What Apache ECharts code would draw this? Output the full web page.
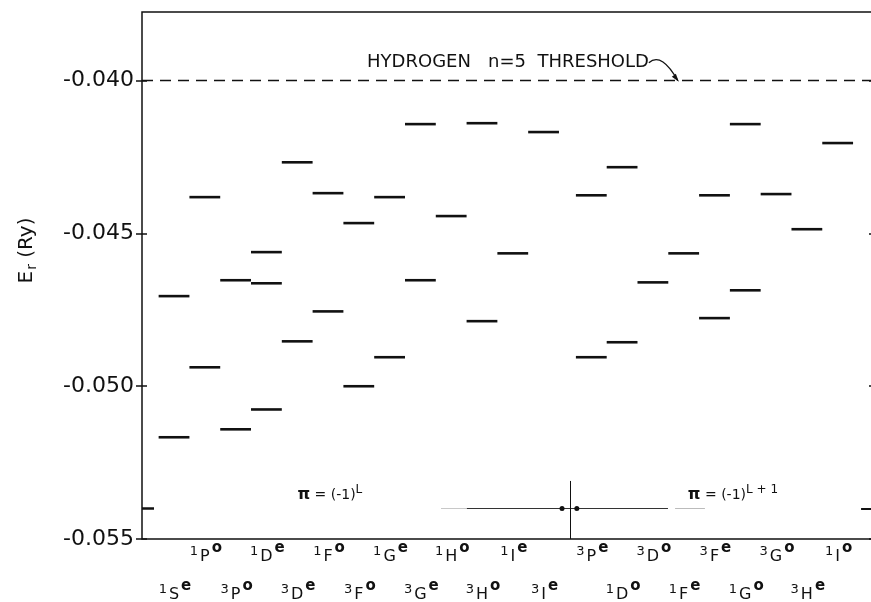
<!DOCTYPE html>
<html>
<head>
<meta charset="utf-8">
<script src="https://cdn.jsdelivr.net/npm/echarts@6/dist/echarts.min.js"></script>
<style>
html, body { margin: 0; padding: 0; background: #fff; }
#chart { width: 871px; height: 602px; }
</style>
</head>
<body>
<div id="chart"></div>
<script>
var F = 'DejaVu Sans';
var INK = '#111';

// term symbols of the 22 columns (multiplicity, L, parity)
var mult   = ['1','1','3','1','3','1','3','1','3','1','3','1','3', '3','1','3','1','3','1','3','3','1'];
var letter = ['S','P','P','D','D','F','F','G','G','H','H','I','I', 'P','D','D','F','F','G','G','H','I'];
var parity = ['e','o','o','e','e','o','o','e','e','o','o','e','e', 'e','o','o','e','e','o','o','e','o'];

// resonance positions E_r (Ry) in each column
var levels = [
    [-0.04705, -0.05167],            // 1Se
    [-0.04381, -0.04938],            // 1Po
    [-0.04653, -0.05141],            // 3Po
    [-0.04561, -0.04663, -0.05076],  // 1De
    [-0.04267, -0.04853],            // 3De
    [-0.04368, -0.04755],            // 1Fo
    [-0.04466, -0.05000],            // 3Fo
    [-0.04381, -0.04905],            // 1Ge
    [-0.04142, -0.04653],            // 3Ge
    [-0.04443],                      // 1Ho
    [-0.04139, -0.04787],            // 3Ho
    [-0.04565],                      // 1Ie
    [-0.04168],                      // 3Ie
    [-0.04375, -0.04905],            // 3Pe
    [-0.04283, -0.04856],            // 1Do
    [-0.04660],                      // 3Do
    [-0.04565],                      // 1Fe
    [-0.04375, -0.04777],            // 3Fe
    [-0.04142, -0.04686],            // 1Go
    [-0.04371],                      // 3Go
    [-0.04486],                      // 3He
    [-0.04204]                       // 1Io
];

// y axis
var yMin = -0.055, yMax = -0.03775;
var yTicks = [-0.055, -0.050, -0.045, -0.040];
var threshold = -0.040;   // hydrogen n=5
var lowLine = -0.0540;
var sepTop = -0.0531;
var sepX = 12.86;

var chart = echarts.init(document.getElementById('chart'));

// the parity groups are split by a gap
var xPos = letter.map(function (l, i) { return i < 13 ? i : i + 0.55; });
var levelData = [];
levels.forEach(function (col, i) {
    col.forEach(function (e) { levelData.push([xPos[i], e]); });
});
var termData = xPos.map(function (x, i) { return [x, yMin, i]; });

var measure = document.createElement('canvas').getContext('2d');
function textWidth(s, size) {
    measure.font = size + 'px "' + F + '"';
    return measure.measureText(s).width;
}

function renderLevel(params, api) {
    var x = api.value(0), e = api.value(1);
    var a = api.coord([x - 0.5, e]);
    var b = api.coord([x + 0.5, e]);
    return {
        type: 'line',
        shape: { x1: a[0], y1: a[1], x2: b[0], y2: b[1] },
        style: { stroke: INK, lineWidth: 2.6 }
    };
}

function txt(x, y, s, size, align, weight) {
    return {
        type: 'text', x: x, y: y,
        style: {
            text: s, fill: INK, fontFamily: F, fontSize: size, fontWeight: weight || 'normal',
            align: align, verticalAlign: 'middle'
        }
    };
}

function renderTerm(params, api) {
    var i = api.value(2);
    var p = api.coord([api.value(0), api.value(1)]);
    var top = i % 2 === 1;
    var cy = p[1] + (top ? 18 : 56);
    var hw = textWidth(letter[i], 16) / 2;
    return {
        type: 'group',
        children: [
            txt(p[0] - hw - 2, cy - 5, mult[i], 13, 'right'),
            txt(p[0], cy, letter[i], 16, 'center'),
            txt(p[0] + hw + 2, cy - 9, parity[i], 15, 'left', 'bold')
        ]
    };
}

var piRich = {
    pi: { color: INK, fontFamily: F, fontSize: 16, fontWeight: 'bold', lineHeight: 16, padding: [6, 0, 0, 0] },
    tx: { color: INK, fontFamily: F, fontSize: 14, lineHeight: 14, padding: [7, 0, 0, 0] },
    sp: { color: INK, fontFamily: F, fontSize: 12, lineHeight: 12, verticalAlign: 'top' }
};

function yAxisBase(pos) {
    return {
        type: 'value',
        position: pos,
        min: yMin,
        max: yMax,
        interval: 0.005,
        splitLine: { show: false },
        axisLine: { show: false, onZero: false }
    };
}

var yLeft = yAxisBase('left');
yLeft.axisTick = { show: true, length: 6, customValues: yTicks, lineStyle: { color: INK, width: 1.5 } };
yLeft.axisLabel = {
    color: INK, fontFamily: F, fontSize: 22, margin: 8, customValues: yTicks,
    formatter: function (v) { return v.toFixed(3); }
};
yLeft.name = '{e|E}{r|r}{t| (Ry)}';
yLeft.nameLocation = 'middle';
yLeft.nameGap = 105;
yLeft.nameTextStyle = {
    color: INK, fontFamily: F, padding: [0, 0, 0, 50],
    rich: {
        e: { color: INK, fontFamily: F, fontSize: 20, lineHeight: 20 },
        r: { color: INK, fontFamily: F, fontSize: 14, lineHeight: 14, padding: [10, 0, 0, 1] },
        t: { color: INK, fontFamily: F, fontSize: 20, lineHeight: 20 }
    }
};

var yInner = yAxisBase('left');
yInner.axisTick = { show: true, inside: true, length: 5, customValues: yTicks, lineStyle: { color: INK, width: 1.5 } };
yInner.axisLabel = { show: false };

var yRight = yAxisBase('right');
yRight.axisTick = { show: true, inside: true, length: 5, customValues: yTicks, lineStyle: { color: INK, width: 1.5 } };
yRight.axisLabel = { show: false };

var option = {
    animation: false,
    backgroundColor: '#fff',
    grid: {
        left: 142, right: -3, top: 12, bottom: 63,
        show: true, borderColor: INK, borderWidth: 1.5,
        containLabel: false, outerBoundsMode: 'none'
    },
    xAxis: {
        type: 'value',
        min: -1.04,
        max: 22.73,
        axisLine: { show: false, onZero: false },
        axisTick: { show: false },
        axisLabel: { show: false },
        splitLine: { show: false }
    },
    yAxis: [yLeft, yInner, yRight],
    series: [{
        type: 'custom',
        name: 'levels',
        renderItem: renderLevel,
        encode: { x: 0, y: 1 },
        data: levelData,
        silent: true,
        markLine: {
            silent: true,
            symbol: ['none', 'none'],
            label: { show: false },
            data: [
                {
                    yAxis: threshold,
                    lineStyle: { type: [11, 7], color: INK, width: 1.4 },
                    label: {
                        show: true, position: 'insideMiddleTop', distance: 9,
                        formatter: 'HYDROGEN   n=5  THRESHOLD',
                        color: INK, fontFamily: F, fontSize: 18
                    }
                },
                [{ coord: [8.67, lowLine], lineStyle: { type: 'solid', color: '#c8c8c8', width: 1 } }, { coord: [9.51, lowLine] }],
                [{ coord: [9.51, lowLine], lineStyle: { type: 'solid', color: '#333', width: 1 } }, { coord: [16.04, lowLine] }],
                [{ coord: [16.27, lowLine], lineStyle: { type: 'solid', color: '#bbb', width: 1 } }, { coord: [17.24, lowLine] }],
                [{ coord: [-1.04, lowLine], lineStyle: { type: 'solid', color: INK, width: 2.5 } }, { coord: [-0.65, lowLine] }],
                [{ coord: [22.31, lowLine], lineStyle: { type: 'solid', color: INK, width: 2 } }, { coord: [22.73, lowLine] }],
                [{ coord: [sepX, sepTop], lineStyle: { type: 'solid', color: INK, width: 1 } }, { coord: [sepX, yMin] }]
            ]
        },
        markPoint: {
            silent: true,
            symbol: 'circle',
            symbolSize: 0,
            data: [
                { coord: [5.06, -0.05347], label: { show: true, position: 'inside', formatter: '{pi|π}{tx| = (-1)}{sp|L}', rich: piRich } },
                { coord: [18.15, -0.05347], label: { show: true, position: 'inside', formatter: '{pi|π}{tx| = (-1)}{sp|L + 1}', rich: piRich } },
                { coord: [12.6, lowLine], symbolSize: 5, itemStyle: { color: INK }, label: { show: false } },
                { coord: [13.08, lowLine], symbolSize: 5, itemStyle: { color: INK }, label: { show: false } }
            ]
        }
    }, {
        type: 'custom',
        name: 'terms',
        renderItem: renderTerm,
        encode: { x: 0, y: 1 },
        data: termData,
        clip: false,
        silent: true
    }]
};

chart.setOption(option);

// leader from the threshold caption down to the dashed line
var tip = chart.convertToPixel({ gridIndex: 0 }, [16.36, threshold]);
chart.setOption({
    graphic: [{
        type: 'bezierCurve',
        shape: {
            x1: tip[0] - 29, y1: tip[1] - 18,
            cpx1: tip[0] - 20, cpy1: tip[1] - 26,
            cpx2: tip[0] - 10, cpy2: tip[1] - 18,
            x2: tip[0], y2: tip[1]
        },
        style: { stroke: INK, lineWidth: 1.3, fill: 'none' },
        silent: true
    }, {
        type: 'polygon',
        shape: { points: [[tip[0] + 1, tip[1] + 1], [tip[0] - 6, tip[1] - 4], [tip[0] - 2, tip[1] - 7]] },
        style: { fill: INK },
        silent: true
    }]
});
</script>
</body>
</html>
